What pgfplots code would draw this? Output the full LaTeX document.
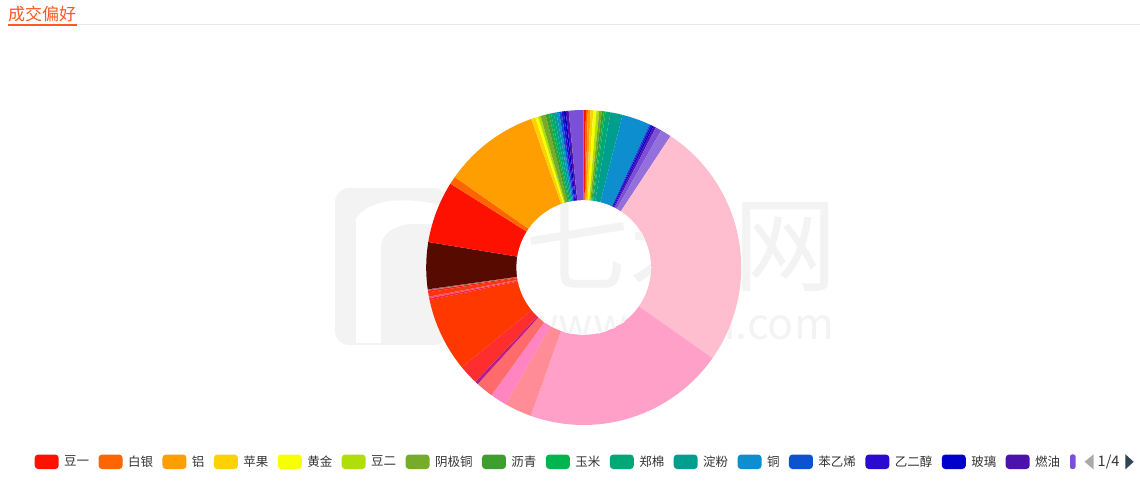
\documentclass[border=0pt]{standalone}
\usepackage{pgfplots}
\usepackage{pgfplotstable}
\pgfplotsset{compat=1.18}
\usepackage{fontspec}
\setmainfont{Noto Sans CJK SC}

\definecolor{titleorange}{HTML}{FF5722}
\definecolor{rulegray}{HTML}{E9E9E9}
\definecolor{legendgray}{HTML}{333333}
\definecolor{wmgray}{HTML}{F3F3F3}
\definecolor{pagerdark}{HTML}{2F4554}
\definecolor{pagerlight}{HTML}{AAAAAA}

% share of each slice (degrees read off the ring, clockwise from the top)
\pgfplotstableread{
name    share  col
豆一     0.8   FF1100
白银     0.7   FF6600
铝       1.0   FF9E01
苹果     1.0   FCD202
黄金     1.2   F8FF01
豆二     1.0   B0DE09
阴极铜   0.9   76AC2A
沥青     0.8   3E9E2E
玉米     0.6   00B450
郑棉     1.8   00A878
淀粉     4.5   009E8E
铜      10.4   0D8ECF
苯乙烯   0.5   0D52D1
乙二醇   0.6   2A0CD0
玻璃     0.6   0000CC
燃油     0.9   4B12AE
s17      2.2   7B4FD6
s18      4.0   9370DB
s19     91.8   FFBDD0
s20     74.6   FFA0C9
s21     10.1   FF8C96
s22      6.1   FF85C2
s23      6.5   FF6A6A
s24      1.2   B41E8C
s25      7.2   FF2E2E
s26     27.4   FF3800
s27      0.7   FF2040
s28      0.6   FF5070
s29      1.6   F23A0A
s30      0.6   FF1A1A
s31      0.5   B86B5C
s32     17.3   560A00
s33     22.9   FF1100
s34      2.9   FF6600
s35     35.5   FF9E01
s36      1.6   FCD202
s37      1.1   F8FF01
s38      0.9   B0DE09
s39      1.9   76AC2A
s40      1.2   3E9E2E
s41      0.8   00B450
s42      1.0   00A878
s43      1.0   009E8E
s44      1.0   0D8ECF
s45      0.9   0D52D1
s46      0.8   2A0CD0
s47      0.7   0000CC
s48      1.1   4B12AE
s49      5.5   7B4FD6
}\slices

\pgfplotstablegetrowsof{\slices}
\pgfmathtruncatemacro\nrows{\pgfplotsretval-1}
\def\total{0}
\pgfplotsforeachungrouped \i in {0,...,\nrows}{%
  \pgfplotstablegetelem{\i}{col}\of\slices
  \edef\tmp{\noexpand\definecolor{sl\i}{HTML}{\pgfplotsretval}}\tmp
  \pgfplotstablegetelem{\i}{share}\of\slices
  \pgfmathsetmacro\total{\total+\pgfplotsretval}}

\newcommand\watermark{%
  \fill[wmgray, rounded corners=14pt] (335pt,136pt) rectangle (448pt,293pt);
  \fill[white] (356pt,138pt) -- (356pt,262pt) .. controls (368pt,282pt) and (405pt,286pt) .. (448pt,274pt)
    -- (448pt,252pt) .. controls (415pt,262pt) and (388pt,258pt) .. (381pt,238pt) -- (381pt,138pt) -- cycle;
  \node[anchor=east, inner sep=0pt, text=wmgray, font=\fontsize{104}{104}\selectfont] at (838pt,236pt) {七禾网};
  \node[anchor=base east, inner sep=0pt, text=wmgray, font=\fontsize{43}{43}\selectfont] at (834pt,141pt) {www.7hcn.com};
}

\begin{document}
\begin{tikzpicture}
\path[use as bounding box] (0,0) rectangle (1140pt,481pt);

\watermark

% title
\node[anchor=base west, inner sep=0pt, text=titleorange, font=\fontsize{17}{18}\selectfont] at (8pt,460.5pt) {成交偏好};
\draw[rulegray, line width=1pt] (77pt,456pt) -- (1140pt,456pt);
\fill[titleorange] (8.3pt,455.2pt) rectangle (77.3pt,457.2pt);

\begin{axis}[
  at={(583.7pt,213.5pt)}, anchor=center,
  scale only axis, width=315pt, height=315pt,
  xmin=-157.5, xmax=157.5, ymin=-157.5, ymax=157.5,
  hide axis, clip=false,
  legend columns=-1,
  legend image code/.code={\fill[#1, draw=none, rounded corners=3.5pt] (0pt,-7.25pt) rectangle (24pt,7.25pt);},
  legend style={at={(-1.2435,-0.1168)}, anchor=west, draw=none, fill=none,
    inner sep=0pt, font=\fontsize{12.5}{14}\selectfont,
    nodes={inner sep=0pt, text=legendgray},
    /tikz/every odd column/.append style={column sep=5.5pt},
    /tikz/every even column/.append style={column sep=9.4pt}},
]
\def\cum{0}
\pgfplotsforeachungrouped \i in {0,...,\nrows}{%
  \pgfplotstablegetelem{\i}{share}\of\slices \let\v\pgfplotsretval
  \pgfmathsetmacro\a{90-(\cum/\total)*360}
  \pgfmathsetmacro\cum{\cum+\v}
  \pgfmathsetmacro\b{90-(\cum/\total)*360}
  \pgfmathtruncatemacro\ns{max(2,ceil((\a-\b)/1.5)+1)}
  \ifnum\i<16
    \pgfplotstablegetelem{\i}{name}\of\slices \let\nm\pgfplotsretval
    \edef\cmd{\noexpand\addplot[fill=sl\i, draw=none, data cs=polar, domain=\b:\a, samples=\ns]
      ({x},{157.5}) -- (axis cs:0,0) -- cycle; \noexpand\addlegendentry{\nm}}%
  \else
    \edef\cmd{\noexpand\addplot[forget plot, fill=sl\i, draw=none, data cs=polar, domain=\b:\a, samples=\ns]
      ({x},{157.5}) -- (axis cs:0,0) -- cycle;}%
  \fi
  \cmd
}
% hole of the ring
\addplot[forget plot, fill=white, draw=none, data cs=polar, domain=0:360, samples=145] ({x},{67.3}) -- cycle;
\end{axis}

% watermark seen through the hole
\begin{scope}
  \clip (583.7pt,213.5pt) circle (67.3pt);
  \watermark
\end{scope}

% cut-off legend item and pager
\fill[sl16, rounded corners=2pt] (1070pt,12pt) rectangle (1075.5pt,26.5pt);
\fill[pagerlight] (1084.5pt,19.2pt) -- (1093.6pt,26.8pt) -- (1093.6pt,11.6pt) -- cycle;
\node[anchor=west, inner sep=0pt, text=legendgray, font=\fontsize{14.5}{16}\selectfont] at (1097.5pt,19.2pt) {1/4};
\fill[pagerdark] (1133.6pt,19.2pt) -- (1125.3pt,26.8pt) -- (1125.3pt,11.6pt) -- cycle;
\end{tikzpicture}
\end{document}
